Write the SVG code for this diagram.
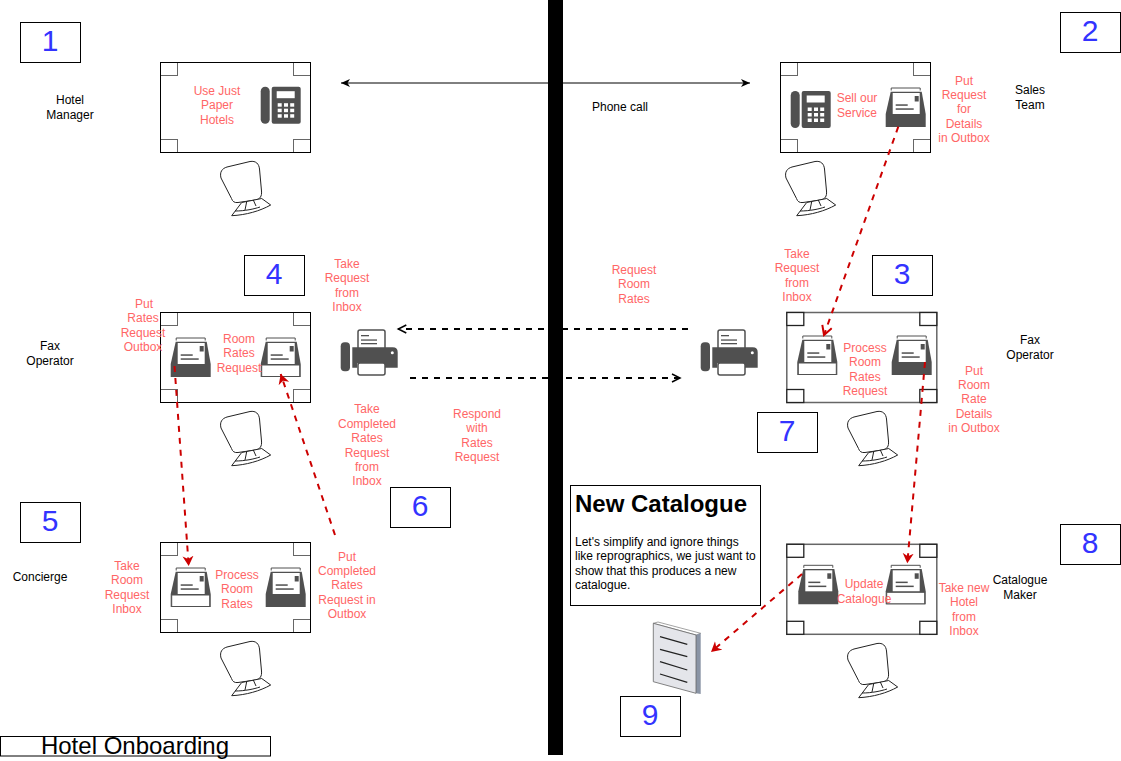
<svg xmlns="http://www.w3.org/2000/svg" xmlns:xlink="http://www.w3.org/1999/xlink" width="1121" height="761" viewBox="0 0 1121 761">
<style>
text{font-family:"Liberation Sans",Arial,sans-serif;font-size:12px;text-anchor:middle}
.r{fill:#FF6666}
.k{fill:#000}
.n{fill:#3333FF;font-size:30px}
.box{fill:#fff;stroke:#000;stroke-width:1}
.red{fill:none;stroke:#CC0000;stroke-width:2;stroke-dasharray:6 6}
.dash{fill:none;stroke:#000;stroke-width:2;stroke-dasharray:6 6}
.ic{fill:#505050}
</style>
<defs>
<marker id="ao" markerWidth="12" markerHeight="12" refX="9" refY="5" orient="auto" markerUnits="userSpaceOnUse"><path d="M1 1L9 5L1 9" fill="none" stroke="#000" stroke-width="1.500"/></marker>
<marker id="as" markerWidth="12" markerHeight="10" refX="9" refY="4" orient="auto-start-reverse" markerUnits="userSpaceOnUse"><path d="M0 0L9 4L0 8L2.500 4Z" fill="#000"/></marker>
<marker id="ar" markerWidth="12" markerHeight="12" refX="10" refY="5.500" orient="auto" markerUnits="userSpaceOnUse"><path d="M0 0L10 5.500L0 11L3 5.500Z" fill="#CC0000"/></marker>
<marker id="arO" markerWidth="14" markerHeight="14" refX="10" refY="6" orient="auto" markerUnits="userSpaceOnUse"><path d="M1 1L10 6L1 11" fill="none" stroke="#CC0000" stroke-width="2"/></marker>
<g id="chair" fill="#fff" stroke="#222" stroke-width="1"><path d="M61 116C59.500 110 62 106.500 67 105L90 99.500C96 98.500 99 102 99.500 107L101.500 129C102 134.500 100 137 95.500 138L78 140.500C74.500 141 72.500 139.500 71.500 136.500Z"/><path d="M81.700 140.500L71.700 153.700C86 153 100 149 110.700 143L101.700 136.500Z"/><path fill="none" d="M86.700 139.700L85 148M93.300 138L96 144M75 149C85 149 94 147 100 145"/></g>
<g id="desk">
<rect width="150" height="90" fill="#fff"/>
<g fill="#fff" stroke="#666" stroke-width="1"><rect x="0" y="0" width="17" height="13"/><rect x="133" y="0" width="17" height="13"/><rect x="0" y="77" width="17" height="13"/><rect x="133" y="77" width="17" height="13"/></g>
<rect width="150" height="90" fill="none" stroke="#000"/>
</g>
<g id="desk-b">
<rect width="150" height="90" fill="#fff" stroke="#666" stroke-width="1.500"/>
<g fill="#fff" stroke="#222" stroke-width="1.300"><rect x="0" y="0" width="17" height="13"/><rect x="133" y="0" width="17" height="13"/><rect x="0" y="77" width="17" height="13"/><rect x="133" y="77" width="17" height="13"/></g>
</g>
<g id="phone" class="ic"><rect x="0" y="0" width="9" height="37" rx="4.500"/><path d="M13 0H38Q40 0 40 2V35Q40 37 38 37H13Q11 37 11 35V2Q11 0 13 0Z"/><g fill="#fff"><rect x="16" y="4.500" width="18" height="7"/><rect x="17" y="16.500" width="4" height="3.500"/><rect x="23.300" y="16.500" width="4" height="3.500"/><rect x="29.500" y="16.500" width="4" height="3.500"/><rect x="17" y="22" width="4" height="3.500"/><rect x="23.300" y="22" width="4" height="3.500"/><rect x="29.500" y="22" width="4" height="3.500"/><rect x="17" y="27.500" width="4" height="3.500"/><rect x="23.300" y="27.500" width="4" height="3.500"/><rect x="29.500" y="27.500" width="4" height="3.500"/></g></g>
<g id="outbox"><path d="M5.500 3.500V1H34.500V3.500" fill="none" stroke="#505050" stroke-width="1"/><path class="ic" d="M5 4.700H36L40 27V40H0V27Z"/><rect x="7" y="6" width="27" height="21" fill="#fff"/><rect x="29" y="9" width="4" height="5.500" class="ic"/><rect x="10" y="17.300" width="12" height="1.500" class="ic"/><rect x="10" y="21.300" width="18" height="1.500" class="ic"/></g>
<g id="inbox"><use href="#outbox" xlink:href="#outbox"/><rect x="1" y="28" width="38" height="11.500" fill="#fff" stroke="#505050"/></g>
<g id="fax"><rect x="0.700" y="13.300" width="9.300" height="29" rx="4" class="ic"/><rect x="18" y="1" width="27" height="20" rx="2" fill="#fff" stroke="#505050" stroke-width="1.500"/><path class="ic" d="M12.300 18.300H52.700Q57.700 18.300 57.700 23.300V38.700H45V34.300H17.300V38.700H12.300Z"/><circle cx="52.300" cy="23.700" r="1.500" fill="#fff"/><rect x="18" y="34" width="27" height="12" rx="2" fill="#fff" stroke="#505050" stroke-width="1.500"/><rect x="21" y="6" width="8" height="1.300" class="ic"/><rect x="21" y="10.400" width="16" height="1.300" class="ic"/><rect x="21" y="14" width="16" height="1.300" class="ic"/></g>
</defs>
<rect width="1121" height="761" fill="#fff"/>

<g id="desk1"><use href="#desk" xlink:href="#desk" x="160.500" y="62.500"/><use href="#chair" xlink:href="#chair" x="160" y="62"/><use href="#phone" xlink:href="#phone" x="260.700" y="86.700"/>
<text class="r"><tspan x="217" y="95">Use Just</tspan><tspan x="217" y="109">Paper</tspan><tspan x="217" y="124">Hotels</tspan></text></g>
<g id="desk2"><use href="#desk" xlink:href="#desk" x="780.500" y="62.500"/><use href="#chair" xlink:href="#chair" x="725" y="62"/><use href="#phone" xlink:href="#phone" x="790.700" y="91"/><use href="#outbox" xlink:href="#outbox" x="885.700" y="87"/>
<text class="r"><tspan x="857" y="102">Sell our</tspan><tspan x="857" y="117">Service</tspan></text></g>
<g id="desk4"><use href="#desk" xlink:href="#desk" x="160.500" y="312.500"/><use href="#chair" xlink:href="#chair" x="160" y="312"/><use href="#outbox" xlink:href="#outbox" x="170.700" y="337"/><use href="#inbox" xlink:href="#inbox" x="260.700" y="337"/>
<text class="r"><tspan x="239" y="343">Room</tspan><tspan x="239" y="357">Rates</tspan><tspan x="239" y="372">Request</tspan></text></g>
<g id="desk3"><use href="#desk-b" xlink:href="#desk-b" x="786.800" y="312.500"/><use href="#chair" xlink:href="#chair" x="787" y="312"/><use href="#inbox" xlink:href="#inbox" x="797.300" y="335"/><use href="#outbox" xlink:href="#outbox" x="891.700" y="335"/>
<text class="r"><tspan x="865" y="352">Process</tspan><tspan x="865" y="366">Room</tspan><tspan x="865" y="381">Rates</tspan><tspan x="865" y="395">Request</tspan></text></g>
<g id="desk5"><use href="#desk" xlink:href="#desk" x="160.500" y="542.500"/><use href="#chair" xlink:href="#chair" x="160" y="542"/><use href="#inbox" xlink:href="#inbox" x="170.700" y="567"/><use href="#outbox" xlink:href="#outbox" x="265.700" y="567"/>
<text class="r"><tspan x="237" y="579">Process</tspan><tspan x="237" y="593">Room</tspan><tspan x="237" y="608">Rates</tspan></text></g>
<g id="desk8"><use href="#desk-b" xlink:href="#desk-b" x="786.800" y="544.300"/><use href="#chair" xlink:href="#chair" x="787" y="544"/><use href="#outbox" xlink:href="#outbox" x="798.300" y="564.300"/><use href="#inbox" xlink:href="#inbox" x="885.700" y="564.300"/>
<text class="r"><tspan x="864" y="588">Update</tspan><tspan x="864" y="603">Catalogue</tspan></text></g>
<g id="fax-left"><use href="#fax" xlink:href="#fax" x="340" y="329"/></g>
<g id="fax-right"><use href="#fax" xlink:href="#fax" x="700" y="329"/></g>
<g id="document"><path d="M653.300 623.300L658 622L700.700 633.300L696 635Z" fill="#fff" stroke="#666" stroke-width=".6"/><path d="M696 635L700.700 633.300V694L696 693.300Z" fill="#8a94a5"/><path d="M653.300 623.300L696 635V693.300L653.300 681.700Z" fill="#e4e5ea" stroke="#666" stroke-width=".8"/><path d="M660 636.700L687.300 644.300M660 649.300L687.300 656.700M660 661.700L687.300 670M660 674L687.300 682.300" stroke="#222" stroke-width="1.300"/></g>

<g id="connectors">
<path d="M341 83H750" fill="none" stroke="#000" marker-start="url(#as)" marker-end="url(#as)"/>
<path class="dash" d="M688 329H398.300" marker-end="url(#ao)"/>
<path class="dash" d="M410 378H680" marker-end="url(#ao)"/>
<path class="red" d="M898.300 126.700L824 335" marker-end="url(#arO)"/>
<path class="red" d="M174.500 366L188.700 566" marker-end="url(#ar)"/>
<path class="red" d="M335 535L280.700 374" marker-end="url(#ar)"/>
<path class="red" d="M925 362L907.300 563.300" marker-end="url(#ar)"/>
<path class="red" d="M802 574L711 652" marker-end="url(#ar)"/>
</g>
<rect id="divider" x="548" y="0" width="15" height="755" fill="#000"/>

<g id="badges">
<g id="b1"><rect class="box" x="20.500" y="22.500" width="60" height="40"/><text class="n" x="50" y="51">1</text></g>
<g id="b2"><rect class="box" x="1060.500" y="12.500" width="60" height="40"/><text class="n" x="1090" y="41">2</text></g>
<g id="b3"><rect class="box" x="872.500" y="255.500" width="60" height="40"/><text class="n" x="902" y="284">3</text></g>
<g id="b4"><rect class="box" x="244.500" y="255.500" width="60" height="40"/><text class="n" x="274" y="284">4</text></g>
<g id="b5"><rect class="box" x="20.500" y="502.500" width="60" height="40"/><text class="n" x="50" y="531">5</text></g>
<g id="b6"><rect class="box" x="390.500" y="487.500" width="60" height="40"/><text class="n" x="420" y="516">6</text></g>
<g id="b7"><rect class="box" x="757.500" y="412.500" width="60" height="40"/><text class="n" x="787" y="441">7</text></g>
<g id="b8"><rect class="box" x="1060.500" y="524.500" width="60" height="40"/><text class="n" x="1090" y="553">8</text></g>
<g id="b9"><rect class="box" x="620.500" y="696.500" width="60" height="40"/><text class="n" x="650" y="725">9</text></g>
</g>

<g id="labels">
<text class="k"><tspan x="70" y="104">Hotel</tspan><tspan x="70" y="119">Manager</tspan></text>
<text class="k"><tspan x="1030" y="94">Sales</tspan><tspan x="1030" y="109">Team</tspan></text>
<text class="k" x="620" y="111">Phone call</text>
<text class="k"><tspan x="50" y="350">Fax</tspan><tspan x="50" y="365">Operator</tspan></text>
<text class="k"><tspan x="1030" y="344">Fax</tspan><tspan x="1030" y="359">Operator</tspan></text>
<text class="k" x="40" y="581">Concierge</text>
<text class="k"><tspan x="1020" y="584">Catalogue</tspan><tspan x="1020" y="599">Maker</tspan></text>
<text class="r"><tspan x="964" y="85">Put</tspan><tspan x="964" y="99">Request</tspan><tspan x="964" y="113">for</tspan><tspan x="964" y="128">Details</tspan><tspan x="964" y="142">in Outbox</tspan></text>
<text class="r"><tspan x="797" y="258">Take</tspan><tspan x="797" y="272">Request</tspan><tspan x="797" y="287">from</tspan><tspan x="797" y="301">Inbox</tspan></text>
<text class="r"><tspan x="634" y="274">Request</tspan><tspan x="634" y="288">Room</tspan><tspan x="634" y="303">Rates</tspan></text>
<text class="r"><tspan x="347" y="268">Take</tspan><tspan x="347" y="282">Request</tspan><tspan x="347" y="297">from</tspan><tspan x="347" y="311">Inbox</tspan></text>
<text class="r"><tspan x="144" y="308">Put</tspan><tspan x="143" y="322">Rates</tspan><tspan x="143" y="337">Request</tspan><tspan x="143" y="351">Outbox</tspan></text>
<text class="r"><tspan x="367" y="413">Take</tspan><tspan x="367" y="428">Completed</tspan><tspan x="367" y="442">Rates</tspan><tspan x="367" y="457">Request</tspan><tspan x="367" y="471">from</tspan><tspan x="367" y="485">Inbox</tspan></text>
<text class="r"><tspan x="477" y="418">Respond</tspan><tspan x="477" y="432">with</tspan><tspan x="477" y="447">Rates</tspan><tspan x="477" y="461">Request</tspan></text>
<text class="r"><tspan x="974" y="375">Put</tspan><tspan x="974" y="389">Room</tspan><tspan x="974" y="403">Rate</tspan><tspan x="974" y="418">Details</tspan><tspan x="974" y="432">in Outbox</tspan></text>
<text class="r"><tspan x="127" y="570">Take</tspan><tspan x="127" y="584">Room</tspan><tspan x="127" y="599">Request</tspan><tspan x="127" y="613">Inbox</tspan></text>
<text class="r"><tspan x="347" y="561">Put</tspan><tspan x="347" y="575">Completed</tspan><tspan x="347" y="589">Rates</tspan><tspan x="347" y="604">Request in</tspan><tspan x="347" y="618">Outbox</tspan></text>
<text class="r"><tspan x="964" y="592">Take new</tspan><tspan x="964" y="606">Hotel</tspan><tspan x="964" y="621">from</tspan><tspan x="964" y="635">Inbox</tspan></text>
</g>

<g id="catalogue-note"><rect class="box" x="570.500" y="485.500" width="190" height="120"/>
<text x="575" y="512" style="font-size:24px;font-weight:bold;text-anchor:start">New Catalogue</text>
<text style="text-anchor:start"><tspan x="575" y="546">Let's simplify and ignore things</tspan><tspan x="575" y="560">like reprographics, we just want to</tspan><tspan x="575" y="575">show that this produces a new</tspan><tspan x="575" y="589">catalogue.</tspan></text></g>
<g id="title"><rect class="box" x="0.500" y="736.500" width="270" height="19.500"/><text x="135" y="754" style="font-size:24px">Hotel Onboarding</text></g>
</svg>
